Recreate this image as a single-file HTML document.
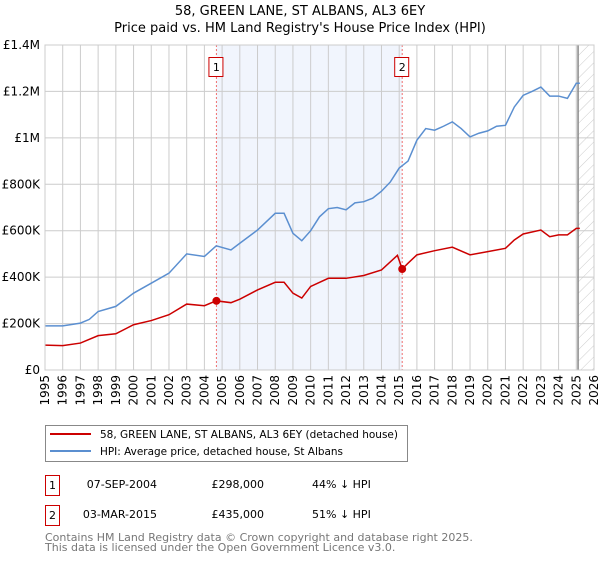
<!DOCTYPE html>
<html><head><meta charset="utf-8"><style>
body{margin:0;background:#fff;font-family:"DejaVu Sans","Liberation Sans",sans-serif;}
svg text{font-family:"DejaVu Sans","Liberation Sans",sans-serif;}
</style></head><body>
<svg id="chart" width="600" height="560" xmlns="http://www.w3.org/2000/svg">
<defs><pattern id="hatch" patternUnits="userSpaceOnUse" width="8" height="8" patternTransform="rotate(45)"><line x1="0" y1="0" x2="0" y2="8" stroke="#ccc" stroke-width="1"/></pattern></defs>
<text x="300" y="15" text-anchor="middle" font-size="13">58, GREEN LANE, ST ALBANS, AL3 6EY</text>
<text x="300" y="32" text-anchor="middle" font-size="13">Price paid vs. HM Land Registry's House Price Index (HPI)</text>
<g id="plot"></g>
<g>
<rect x="45.5" y="425.5" width="362" height="36" fill="#fff" stroke="#888"/>
<line x1="50" y1="434" x2="91" y2="434" stroke="#cc0000" stroke-width="2"/>
<text x="100" y="438" font-size="10.6" textLength="298" lengthAdjust="spacingAndGlyphs">58, GREEN LANE, ST ALBANS, AL3 6EY (detached house)</text>
<line x1="50" y1="451" x2="91" y2="451" stroke="#5b8fd0" stroke-width="2"/>
<text x="100" y="455" font-size="10.6" textLength="243" lengthAdjust="spacingAndGlyphs">HPI: Average price, detached house, St Albans</text>
</g>
<g font-size="11">
<rect x="45.5" y="475.5" width="14" height="20" fill="#fff" stroke="#cc0000"/>
<text x="52.5" y="489" text-anchor="middle">1</text>
<text x="157" y="488" text-anchor="end">07-SEP-2004</text>
<text x="264" y="488" text-anchor="end">£298,000</text>
<text x="312" y="488">44% ↓ HPI</text>
<rect x="45.5" y="505.5" width="14" height="20" fill="#fff" stroke="#cc0000"/>
<text x="52.5" y="519" text-anchor="middle">2</text>
<text x="157" y="518" text-anchor="end">03-MAR-2015</text>
<text x="264" y="518" text-anchor="end">£435,000</text>
<text x="312" y="518">51% ↓ HPI</text>
</g>
<text x="45" y="541" font-size="11" fill="#777">Contains HM Land Registry data © Crown copyright and database right 2025.</text>
<text x="45" y="551" font-size="11" fill="#777">This data is licensed under the Open Government Licence v3.0.</text>
</svg>
<script>
const hpiYears=[1995,1996,1997,1997.5,1998,1999,2000,2001,2002,2003,2004,2004.67,2005.5,2006,2007,2008,2008.5,2009,2009.5,2010,2010.5,2011,2011.5,2012,2012.5,2013,2013.5,2014,2014.5,2015,2015.17,2015.5,2016,2016.5,2017,2017.5,2018,2018.5,2019,2019.5,2020,2020.5,2021,2021.5,2022,2022.5,2023,2023.5,2024,2024.5,2025,2025.2];
const hpiValues=[190,190,202,218,252,274,331,374,417,500,489,535,517,546,603,675,675,589,557,600,660,695,700,690,720,725,740,770,810,870,880,900,990,1040,1033,1050,1069,1040,1004,1020,1030,1050,1054,1133,1183,1200,1219,1180,1180,1170,1235,1235];
const priceYears=[1995,1996,1997,1998,1999,2000,2001,2002,2003,2004,2004.67,2005.5,2006,2007,2008,2008.5,2009,2009.5,2010,2011,2012,2013,2014,2014.9,2015.17,2015.5,2016,2017,2018,2019,2020,2021,2021.5,2022,2023,2023.5,2024,2024.5,2025,2025.2];
const priceValues=[107,105,116,148,156,195,213,238,284,277,298,290,305,345,378,378,331,310,360,395,395,407,431,494,435,460,496,514,529,496,510,524,560,586,603,574,582,582,610,610];
const sales=[{n:"1",t:2004.68,v:298},{n:"2",t:2015.17,v:435}];
const yTicks=[0,200,400,600,800,1000,1200,1400];
const yLabels=["£0","£200K","£400K","£600K","£800K","£1M","£1.2M","£1.4M"];
const xTicks=[1995,1996,1997,1998,1999,2000,2001,2002,2003,2004,2005,2006,2007,2008,2009,2010,2011,2012,2013,2014,2015,2016,2017,2018,2019,2020,2021,2022,2023,2024,2025,2026];
const L=45,R=594,T=45,B=370;
const X=t=>L+(t-1995)/(2026-1995)*(R-L);
const Y=v=>B-v/1400*(B-T);
const NS="http://www.w3.org/2000/svg";
const g=document.getElementById('plot');
function mk(tag,a,p){const e=document.createElementNS(NS,tag);for(const k in a)e.setAttribute(k,a[k]);(p||g).appendChild(e);return e;}
let e;
e=mk('rect',{x:X(sales[0].t),y:T,width:X(sales[1].t)-X(sales[0].t),height:B-T,fill:'#f1f5fd'});


e=mk('rect',{x:X(2025.1),y:T,width:R-X(2025.1),height:B-T,fill:'url(#hatch)'});


xTicks.forEach(t=>{
 const l=mk('line',{x1:X(t),x2:X(t),y1:T,y2:B,stroke:'#ccc','stroke-width':1});
 
 
 const tx=mk('text',{x:0,y:0,'font-size':12,'text-anchor':'end',transform:`translate(${X(t)+4},${B+5}) rotate(-90)`});
 tx.textContent=t;
 
 
});
yTicks.forEach((v,i)=>{
 const l=mk('line',{x1:L,x2:R,y1:Y(v),y2:Y(v),stroke:'#ccc','stroke-width':1});
 
 
 const tx=mk('text',{x:L-5,y:Y(v)+4,'font-size':12,'text-anchor':'end'});
 tx.textContent=yLabels[i];
 
 
});
e=mk('line',{x1:X(2025.1),x2:X(2025.1),y1:T,y2:B,stroke:'#888','stroke-width':1.5});


sales.forEach(s=>{
 const l=mk('line',{x1:X(s.t),x2:X(s.t),y1:T,y2:B,stroke:'#f07070','stroke-width':1,'stroke-dasharray':'2,2'});
 
 
 const r=mk('rect',{x:X(s.t)-7.5,y:57.5,width:14,height:19,fill:'#fff',stroke:'#cc0000'});
 
 
 const tx=mk('text',{x:X(s.t),y:71,'font-size':11,'text-anchor':'middle'});
 tx.textContent=s.n;
 
 
});
e=mk('polyline',{points:hpiYears.map((t,i)=>X(t)+','+Y(hpiValues[i])).join(' '),fill:'none',stroke:'#5b8fd0','stroke-width':1.5});


e=mk('polyline',{points:priceYears.map((t,i)=>X(t)+','+Y(priceValues[i])).join(' '),fill:'none',stroke:'#cc0000','stroke-width':1.5});


sales.forEach(s=>{
 const c=mk('circle',{cx:X(s.t),cy:Y(s.v),r:4,fill:'#cc0000'});
 
 
});
e=mk('rect',{x:L,y:T,width:R-L,height:B-T,fill:'none',stroke:'#ccc'});


</script>
</body></html>
